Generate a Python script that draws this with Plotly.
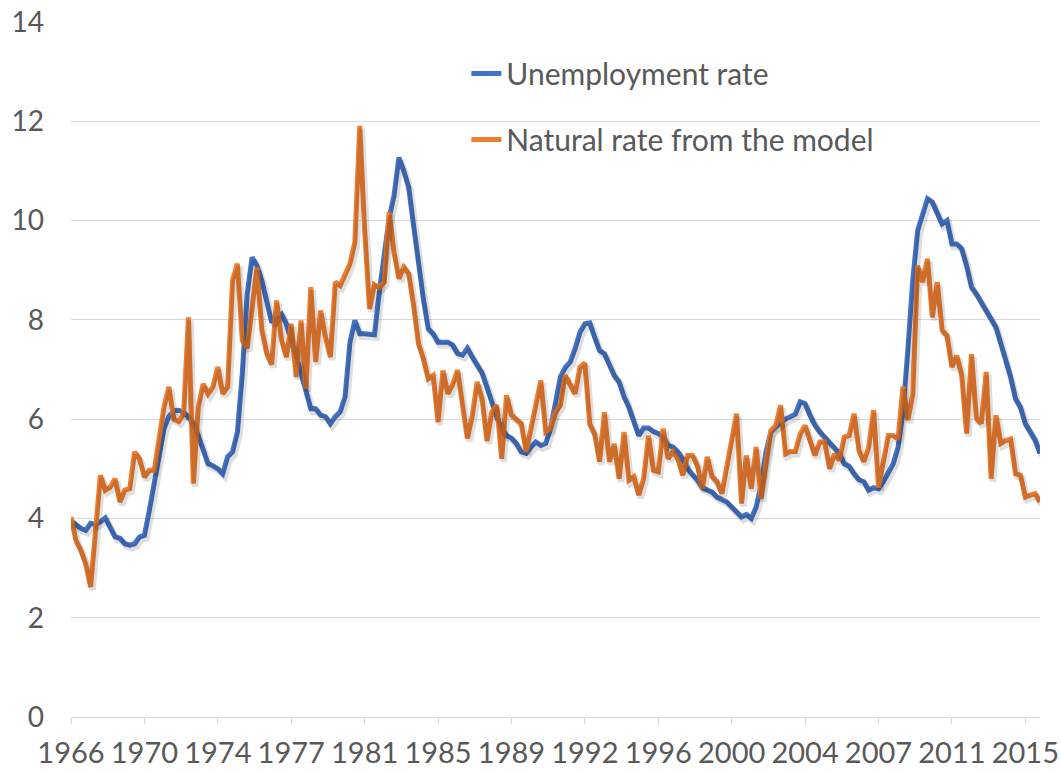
import plotly.graph_objects as go

# Quarterly data, 1966Q3 .. 2016Q1 (199 quarters)
unemployment = [
    3.95, 3.86, 3.80, 3.76, 3.90, 3.88, 3.93, 4.01, 3.83, 3.63,
    3.60, 3.49, 3.46, 3.49, 3.63, 3.66, 4.16, 4.74, 5.24, 5.81,
    6.05, 6.17, 6.18, 6.14, 6.04, 5.91, 5.67, 5.37, 5.10, 5.06,
    5.00, 4.90, 5.24, 5.34, 5.74, 6.92, 8.52, 9.26, 9.09, 8.79,
    8.32, 7.95, 8.07, 8.12, 7.92, 7.55, 7.28, 6.95, 6.55, 6.21,
    6.21, 6.08, 6.05, 5.91, 6.05, 6.15, 6.45, 7.55, 7.99, 7.72,
    7.72, 7.72, 7.70, 8.56, 9.30, 10.05, 10.50, 11.27, 11.00, 10.67,
    9.90, 9.09, 8.42, 7.82, 7.72, 7.55, 7.56, 7.55, 7.49, 7.32,
    7.29, 7.43, 7.25, 7.08, 6.93, 6.64, 6.33, 6.04, 5.81, 5.67,
    5.62, 5.51, 5.34, 5.31, 5.44, 5.54, 5.47, 5.51, 5.81, 6.28,
    6.85, 7.04, 7.15, 7.42, 7.75, 7.92, 7.94, 7.65, 7.38, 7.32,
    7.08, 6.88, 6.75, 6.45, 6.24, 5.94, 5.67, 5.82, 5.82, 5.75,
    5.71, 5.64, 5.47, 5.44, 5.34, 5.20, 5.00, 4.88, 4.77, 4.62,
    4.57, 4.53, 4.43, 4.37, 4.33, 4.23, 4.13, 4.03, 4.08, 4.00,
    4.23, 4.67, 5.34, 5.74, 5.84, 5.94, 6.00, 6.04, 6.10, 6.35,
    6.31, 6.08, 5.88, 5.74, 5.64, 5.54, 5.44, 5.31, 5.10, 5.05,
    4.90, 4.78, 4.74, 4.57, 4.62, 4.60, 4.74, 4.90, 5.10, 5.44,
    6.15, 7.40, 8.80, 9.80, 10.10, 10.44, 10.37, 10.17, 9.93, 10.00,
    9.53, 9.53, 9.43, 9.09, 8.66, 8.52, 8.36, 8.19, 8.05, 7.85,
    7.52, 7.18, 6.85, 6.41, 6.24, 5.91, 5.74, 5.58, 5.31,
]

natural_rate = [
    4.03, 3.56, 3.36, 3.09, 2.62, 3.70, 4.87, 4.57, 4.63, 4.80,
    4.33, 4.57, 4.60, 5.34, 5.20, 4.83, 4.97, 4.97, 5.64, 6.24,
    6.65, 6.00, 5.95, 6.10, 8.05, 4.70, 6.24, 6.71, 6.51, 6.65,
    7.05, 6.51, 6.65, 8.79, 9.13, 7.59, 7.43, 8.20, 9.05, 7.79,
    7.32, 7.10, 8.39, 7.60, 7.25, 7.92, 6.85, 7.99, 6.61, 8.66,
    7.15, 8.19, 7.65, 7.25, 8.76, 8.69, 8.89, 9.13, 9.56, 11.91,
    9.80, 8.22, 8.71, 8.65, 8.76, 10.17, 9.36, 8.83, 9.06, 8.93,
    8.29, 7.52, 7.22, 6.81, 6.88, 5.94, 6.98, 6.51, 6.70, 6.99,
    6.28, 5.61, 6.08, 6.75, 6.40, 5.56, 6.15, 6.28, 5.20, 6.48,
    6.08, 5.98, 5.91, 5.34, 5.84, 6.28, 6.78, 5.74, 5.81, 6.14,
    6.28, 6.88, 6.68, 6.51, 7.05, 7.13, 5.90, 5.70, 5.14, 6.14,
    5.14, 5.50, 4.80, 5.74, 4.77, 4.84, 4.47, 4.80, 5.67, 4.97,
    4.94, 5.81, 5.20, 5.34, 5.20, 4.87, 5.27, 5.27, 5.06, 4.60,
    5.24, 4.84, 4.74, 4.50, 5.04, 5.61, 6.11, 4.30, 5.27, 4.60,
    5.44, 4.40, 5.07, 5.77, 5.87, 6.28, 5.30, 5.35, 5.35, 5.70,
    5.87, 5.55, 5.27, 5.54, 5.54, 5.00, 5.30, 5.17, 5.64, 5.67,
    6.11, 5.37, 5.14, 5.44, 6.18, 4.62, 5.20, 5.67, 5.67, 5.60,
    6.66, 5.98, 6.50, 9.09, 8.76, 9.23, 8.05, 8.76, 7.79, 7.68,
    7.05, 7.28, 6.88, 5.71, 7.31, 6.01, 5.91, 6.95, 4.80, 6.08,
    5.51, 5.57, 5.60, 4.90, 4.87, 4.43, 4.47, 4.50, 4.33,
]

tick_labels = ["1966", "1970", "1974", "1977", "1981", "1985", "1989",
               "1992", "1996", "2000", "2004", "2007", "2011", "2015"]
tick_every = 15  # quarters between labelled ticks

series_names = ["Unemployment rate", "Natural rate from the model"]
series_colors = ["#4472C4", "#ED7D31"]

n = len(unemployment)
x = list(range(n))
tick_positions = [k * tick_every for k in range(len(tick_labels))]

FONT = "Lato"
TEXT = "#595959"
GRID = "#d9d9d9"
Y_MAX = 14.02

fig = go.Figure()

# soft drop shadow (same data on slightly offset hidden axes)
for ys in (unemployment, natural_rate):
    fig.add_trace(go.Scatter(x=x, y=ys, mode="lines", xaxis="x2", yaxis="y2",
                             line=dict(color="rgba(0,0,0,0.13)", width=6.5),
                             showlegend=False, hoverinfo="skip"))

for ys, name, col in zip((unemployment, natural_rate), series_names, series_colors):
    fig.add_trace(go.Scatter(x=x, y=ys, mode="lines", name=name,
                             line=dict(color=col, width=5),
                             legendgroup=name))

px_per_q = 969 / (n - 1)
px_per_unit = 696 / Y_MAX
dx = 2 / px_per_q
dy = 3 / px_per_unit

fig.update_layout(
    width=1061, height=773,
    margin=dict(l=71, r=21, t=21, b=56),
    paper_bgcolor="white", plot_bgcolor="white",
    font=dict(family=FONT, color=TEXT, size=28),
    xaxis=dict(range=[0, n - 1], tickmode="array", tickvals=tick_positions,
               ticktext=tick_labels, showgrid=False, zeroline=False,
               showline=True, linecolor=GRID, linewidth=1,
               ticks="outside", ticklen=6, tickcolor=GRID, automargin=False,
               ticklabelstandoff=4, ticklabeloverflow="allow",
               tickfont=dict(size=29, family=FONT, color=TEXT)),
    yaxis=dict(range=[0, Y_MAX], tickmode="array", tickvals=list(range(0, 15, 2)),
               showgrid=True, gridcolor=GRID, gridwidth=1, zeroline=False,
               showline=False, ticks="", ticklabelstandoff=26, automargin=False,
               ticklabeloverflow="allow",
               tickfont=dict(size=28, family=FONT, color=TEXT)),
    xaxis2=dict(range=[-dx, n - 1 - dx], overlaying="x", visible=False),
    yaxis2=dict(range=[dy, Y_MAX + dy], overlaying="y", visible=False),
    legend=dict(x=0.408, y=0.962, xanchor="left", yanchor="top",
                bgcolor="rgba(0,0,0,0)", tracegroupgap=24,
                font=dict(size=30, family=FONT, color=TEXT)),
    showlegend=True,
)

# remove the browser's default 8px page margin so the figure fills the window
fig.write_html("out.html",
               config={"displayModeBar": False},
               post_script="document.body.style.margin='0';document.body.style.overflow='hidden';")
